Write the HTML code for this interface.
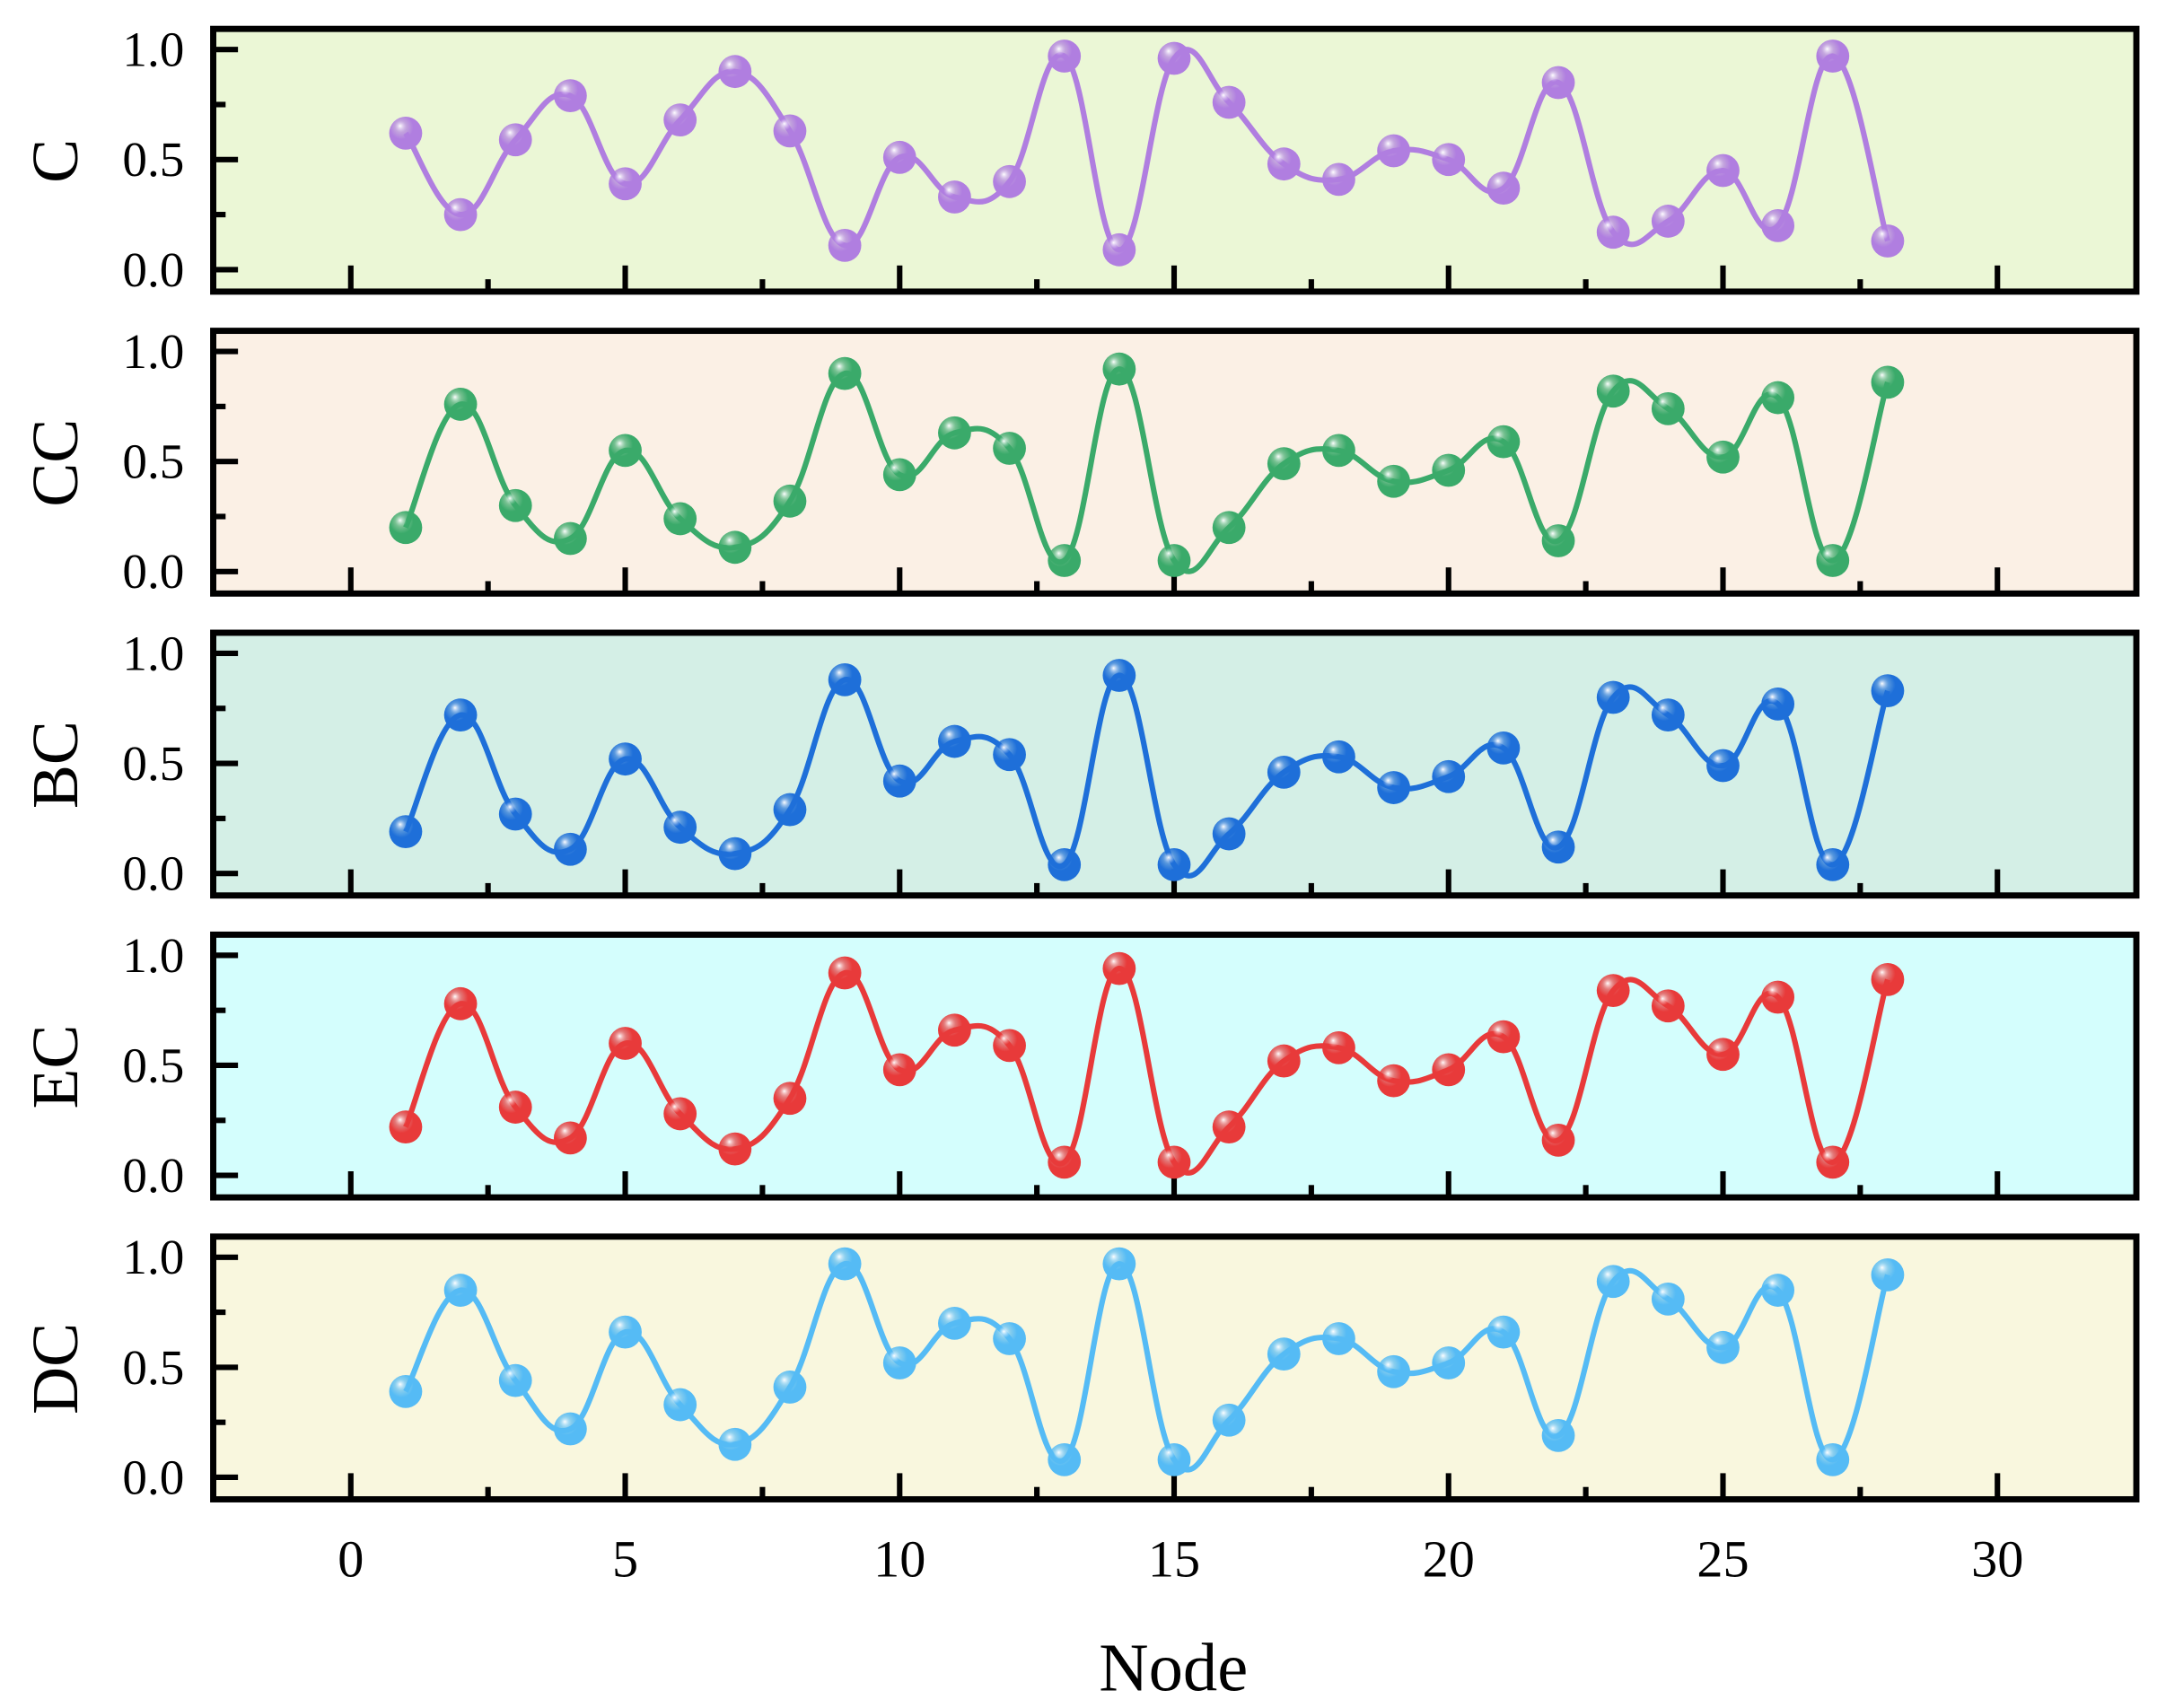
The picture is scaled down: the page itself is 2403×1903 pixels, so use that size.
<!DOCTYPE html>
<html><head><meta charset="utf-8"><style>html,body{margin:0;padding:0;background:#fff}svg{display:block}</style></head>
<body>
<svg id="chart" width="2403" height="1903" viewBox="0 0 1568 1241.7" preserveAspectRatio="none" xmlns="http://www.w3.org/2000/svg" font-family="'Liberation Serif', serif">
<defs id="defs"></defs>
<g id="panels"></g>
<g id="xlabels"></g>
<text x="853" y="1229" font-size="50" text-anchor="middle">Node</text>
</svg>
<script>
const nodes = [1,2,3,4,5,6,7,8,9,10,11,12,13,14,15,16,17,18,19,20,21,22,23,24,25,26,27,28];
const seriesNames = ["C","CC","BC","EC","DC"];
const valuesC  = [.62,.25,.59,.79,.39,.68,.9,.63,.11,.51,.33,.4,.97,.09,.96,.76,.48,.41,.54,.5,.37,.85,.17,.22,.45,.2,.97,.13];
const valuesCC = [.2,.76,.3,.15,.55,.24,.11,.32,.9,.44,.63,.56,.05,.92,.05,.2,.49,.55,.41,.46,.59,.14,.82,.74,.52,.79,.05,.86];
const valuesBC = [.19,.72,.27,.11,.52,.21,.09,.29,.88,.42,.6,.54,.04,.9,.04,.18,.46,.53,.39,.44,.57,.12,.8,.72,.49,.77,.04,.83];
const valuesEC = [.22,.78,.31,.17,.6,.28,.12,.35,.92,.48,.66,.59,.06,.94,.06,.22,.52,.58,.43,.48,.63,.16,.84,.77,.55,.81,.06,.89];
const valuesDC = [.39,.85,.44,.22,.66,.33,.15,.41,.97,.52,.7,.63,.08,.97,.08,.26,.56,.63,.48,.52,.66,.19,.89,.81,.59,.85,.08,.92];
const yTickLabels = ["0.0","0.5","1.0"];
const xTickLabels = ["0","5","10","15","20","25","30"];

const allValues = [valuesC, valuesCC, valuesBC, valuesEC, valuesDC];
const lineColors = ["#b07ee0","#3aaa6a","#1e6fd9","#e83a3a","#55bbf5"];
const bgColors = ["#ebf7d6","#fbf0e5","#d4efe6","#d4fefd","#f9f7de"];
const NS = "http://www.w3.org/2000/svg";
const L = 155, R = 1553, panelH = 191, step = 219.5, top0 = 21;
const xs = v => 255 + v * 39.9;
function mk(tag, attrs, parent){const e=document.createElementNS(NS,tag);for(const k in attrs)e.setAttribute(k,attrs[k]);parent.appendChild(e);return e;}
const defs = document.getElementById('defs');
const panels = document.getElementById('panels');

seriesNames.forEach((name, pi) => {
  const top = top0 + pi * step, bot = top + panelH;
  const ys = v => top + 175 - v * 160;
  const col = lineColors[pi];
  const grad = mk('radialGradient',{id:'g'+pi,cx:'0.4',cy:'0.35',r:'0.6',fx:'0.33',fy:'0.28'},defs);
  mk('stop',{offset:'0','stop-color':'#ffffff'},grad);
  mk('stop',{offset:'0.3','stop-color':col,'stop-opacity':'0.7'},grad);
  mk('stop',{offset:'0.6','stop-color':col},grad);
  mk('stop',{offset:'1','stop-color':col},grad);
  const g = mk('g',{},panels);
  
  
  const bg = mk('rect',{x:L,y:top,width:R-L,height:panelH,fill:bgColors[pi]},g);
  
  
  [0,0.25,0.5,0.75,1].forEach((t,i)=>{
    mk('line',{x1:L,x2:L+(i%2?9:18),y1:ys(t),y2:ys(t),stroke:'#000','stroke-width':4},g);
  });
  yTickLabels.forEach(s=>{
    const t = mk('text',{x:134,y:ys(parseFloat(s))+12,'font-size':36,'text-anchor':'end'},g);
    t.textContent = s;
    
    
  });
  for(let v=0; v<=32.5; v+=2.5){
    const major = v%5===0;
    if (xs(v) > R-3) break;
    mk('line',{x1:xs(v),x2:xs(v),y1:bot,y2:bot-(major?19:9),stroke:'#000','stroke-width':4},g);
  }
  const title = mk('text',{x:0,y:0,'font-size':48,'text-anchor':'middle',transform:`translate(56 ${top+96}) rotate(-90)`},g);
  title.textContent = name;
  
  
  const vals = allValues[pi];
  const P = vals.map((v,i)=>[xs(nodes[i]), ys(v)]);
  let d = `M${P[0][0]},${P[0][1]}`;
  const k = 5;
  for(let i=0;i<P.length-1;i++){
    const p0=P[Math.max(0,i-1)],p1=P[i],p2=P[i+1],p3=P[Math.min(P.length-1,i+2)];
    const c1=[p1[0]+(p2[0]-p0[0])/k,p1[1]+(p2[1]-p0[1])/k];
    const c2=[p2[0]-(p3[0]-p1[0])/k,p2[1]-(p3[1]-p1[1])/k];
    d+=` C${c1[0]},${c1[1]} ${c2[0]},${c2[1]} ${p2[0]},${p2[1]}`;
  }
  const line = mk('path',{d:d,fill:'none',stroke:col,'stroke-width':4},g);
  
  
  P.forEach((p,i)=>{
    const c = mk('circle',{cx:p[0],cy:p[1],r:12,fill:`url(#g${pi})`},g);
    
    
  });
  const frame = mk('rect',{x:L,y:top,width:R-L,height:panelH,fill:'none',stroke:'#000','stroke-width':4.5},g);
  
  
});
const xl = document.getElementById('xlabels');
xTickLabels.forEach(s=>{
  const t = mk('text',{x:xs(parseFloat(s)),y:1146,'font-size':38,'text-anchor':'middle'},xl);
  t.textContent = s;
  
  
});
</script>
</body></html>
